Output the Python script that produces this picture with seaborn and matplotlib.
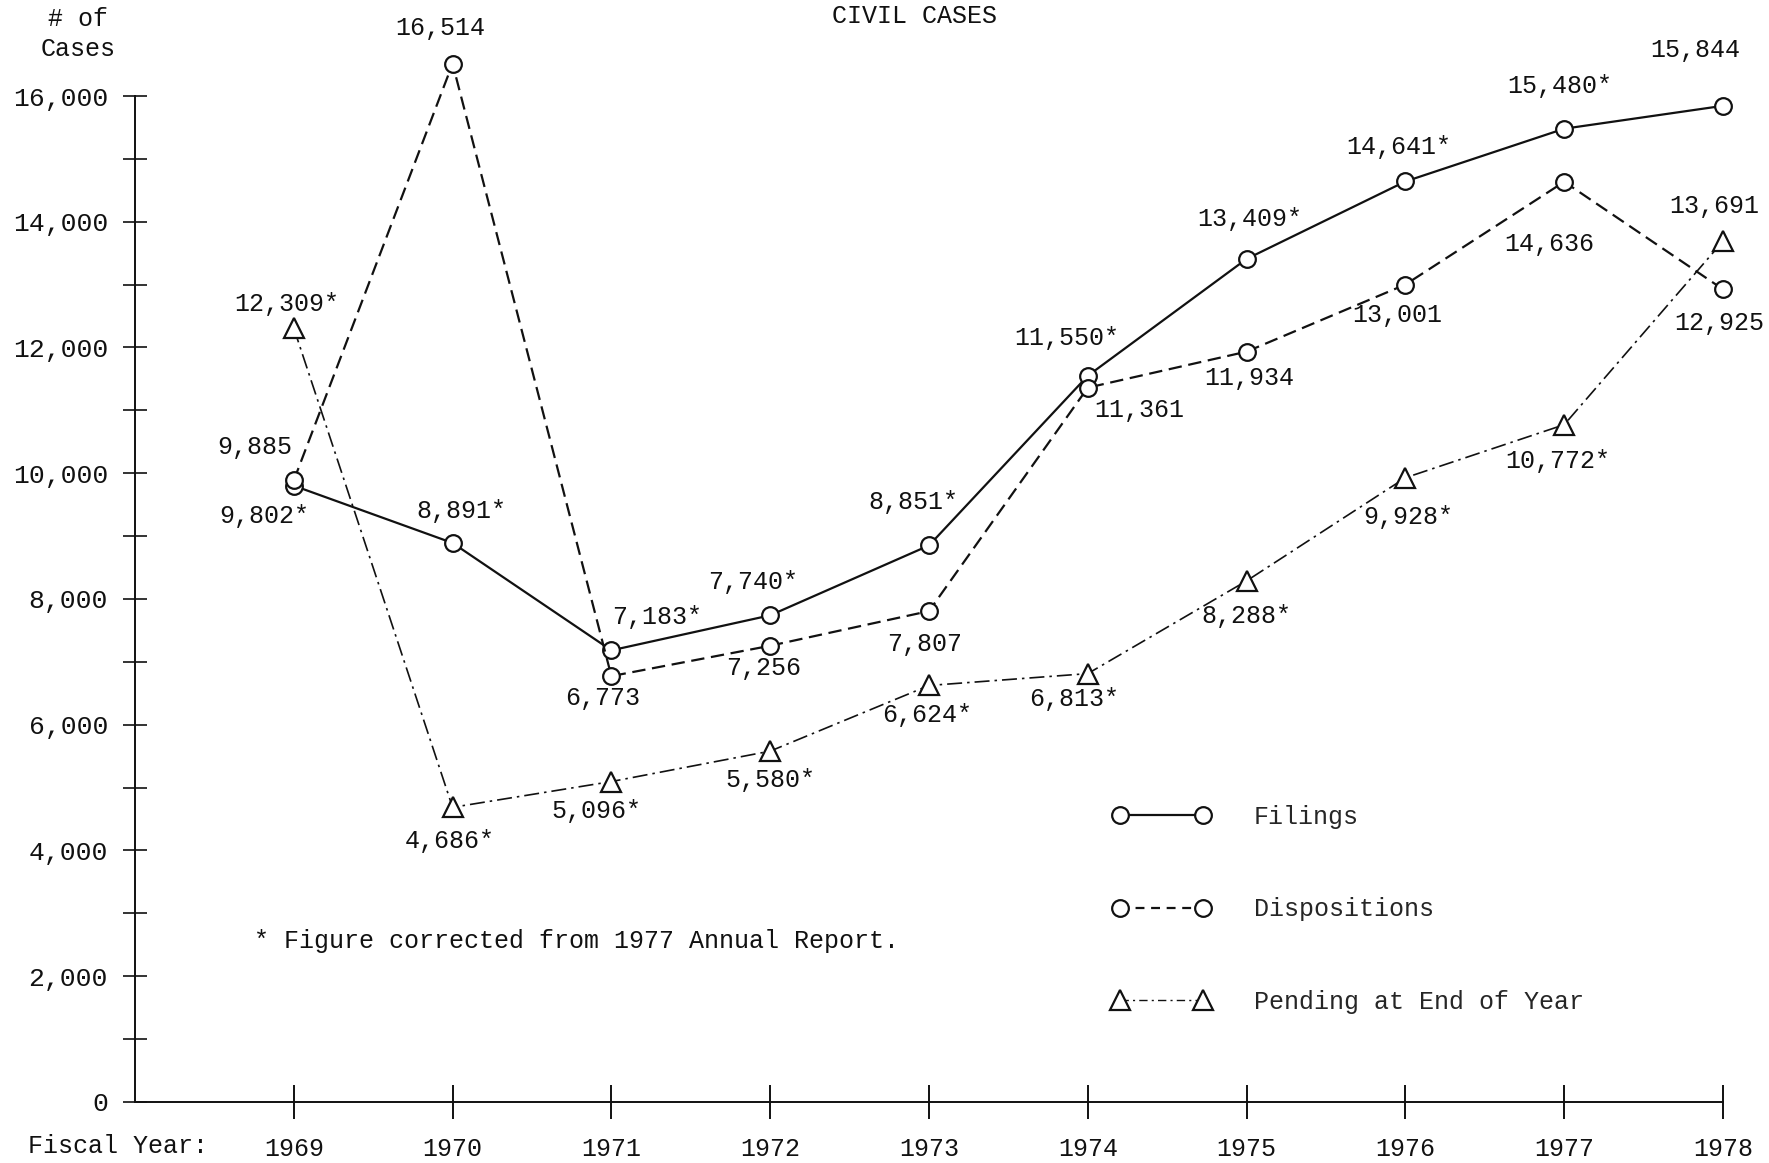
import pandas as pd
import matplotlib.pyplot as plt
import seaborn as sns
from matplotlib.lines import Line2D

# Values as printed on the chart
years = [1969, 1970, 1971, 1972, 1973, 1974, 1975, 1976, 1977, 1978]
filings = [9802, 8891, 7183, 7740, 8851, 11550, 13409, 14641, 15480, 15844]
dispositions = [9885, 16514, 6773, 7256, 7807, 11361, 11934, 13001, 14636, 12925]
pending = [12309, 4686, 5096, 5580, 6624, 6813, 8288, 9928, 10772, 13691]

# which labels carry the asterisk (corrected from 1977 report)
filings_star = [1, 1, 1, 1, 1, 1, 1, 1, 1, 0]
dispositions_star = [0] * 10
pending_star = [1, 1, 1, 1, 1, 1, 1, 1, 1, 0]

series_names = ["Filings", "Dispositions", "Pending at End of Year"]
y_ticks = [0, 2000, 4000, 6000, 8000, 10000, 12000, 14000, 16000]

# label offsets in points (dx, dy)
filings_off = [(-21, -22), (6, 23), (33, 24), (-12, 24), (-11, 31),
               (-15, 27), (2, 29), (-5, 25), (-3, 31), (-20, 40)]
disp_off = [(-28, 24), (-9, 26), (-6, -16), (-5, -16), (-3, -24),
            (37, -16), (2, -19), (-6, -22), (-11, -45), (-3, -24)]
pend_off = [(-5, 17), (-2, -24), (-11, -21), (0, -21), (-1, -21),
            (-10, -18), (0, -25), (2, -28), (-5, -26), (-6, 25)]

df = pd.DataFrame({
    "year": years * 3,
    "cases": filings + dispositions + pending,
    "series": [series_names[0]] * 10 + [series_names[1]] * 10 + [series_names[2]] * 10,
})

sns.set_theme(style="white")
plt.rcParams['font.family'] = ['Liberation Mono', 'DejaVu Sans']

ink = "#111111"
fs = 18

fig = plt.figure(figsize=(17.69, 11.63), dpi=100)
ax = fig.add_axes([0.0763, 0.0525, 0.8977, 0.919])

markers = {series_names[0]: "o", series_names[1]: "o", series_names[2]: "^"}
dashes = {series_names[0]: "", series_names[1]: (6, 3), series_names[2]: (9, 3, 1.5, 3)}
sns.lineplot(data=df, x="year", y="cases", style="series", markers=markers, dashes=dashes,
             color=ink, linewidth=1.6, markersize=12, markerfacecolor="white",
             markeredgecolor=ink, markeredgewidth=1.6, legend=False, ax=ax)

for line in ax.get_lines():
    line.set_clip_on(False)
    if line.get_marker() == "^":
        line.set_markersize(15)
        line.set_linewidth(1.2)

def label_series(vals, stars, offs):
    for x, v, s, (dx, dy) in zip(years, vals, stars, offs):
        txt = f"{v:,}" + ("*" if s else "")
        ax.annotate(txt, (x, v), xytext=(dx, dy), textcoords="offset points",
                    ha="center", va="center", fontsize=fs, color=ink, clip_on=False)

label_series(filings, filings_star, filings_off)
label_series(dispositions, dispositions_star, disp_off)
label_series(pending, pending_star, pend_off)

# axes
ax.set_xlim(1968, 1978)
ax.set_ylim(0, 17000)
for side in ["top", "right"]:
    ax.spines[side].set_visible(False)
ax.spines["left"].set_bounds(0, 16000)
ax.spines["left"].set_color(ink)
ax.spines["bottom"].set_color(ink)
ax.spines["left"].set_linewidth(1.4)
ax.spines["bottom"].set_linewidth(1.4)

ax.set_yticks(y_ticks)
ax.set_yticklabels([f"{t:,}" for t in y_ticks])
ax.set_yticks(range(1000, 17000, 2000), minor=True)
ax.set_xticks(years)
ax.set_xticklabels([str(y) for y in years])
ax.tick_params(axis="y", which="both", direction="inout", length=17, width=1.2,
               colors=ink, labelsize=19, pad=11, left=True)
ax.tick_params(axis="x", direction="inout", length=24, width=1.4,
               colors=ink, labelsize=fs, pad=13, bottom=True)
ax.set_xlabel("")
ax.set_ylabel("")
ax.grid(False)

# legend
handles = [
    Line2D([], [], color=ink, linestyle="-", linewidth=1.6, marker="o", markersize=12,
           markerfacecolor="white", markeredgecolor=ink, markeredgewidth=1.6),
    Line2D([], [], color=ink, linestyle=(0, (4, 3)), linewidth=1.6, marker="o", markersize=12,
           markerfacecolor="white", markeredgecolor=ink, markeredgewidth=1.6),
    Line2D([], [], color=ink, linestyle=(0, (6, 3, 1.5, 3)), linewidth=1.0, marker="^", markersize=15,
           markerfacecolor="white", markeredgecolor=ink, markeredgewidth=1.6),
]
fig.legend(handles, series_names, loc="upper left", bbox_to_anchor=(0.622, 0.319),
           frameon=False, numpoints=2, handlelength=3.9, handletextpad=1.75,
           labelspacing=2.75, fontsize=fs, borderpad=0)

ax.text(0.075, 0.151, "* Figure corrected from 1977 Annual Report.",
        transform=ax.transAxes, fontsize=fs, color=ink, va="center", ha="left")

fig.text(0.044, 0.971, "# of\nCases", fontsize=fs, color=ink, ha="center", va="center",
         linespacing=1.3)
fig.text(0.517, 0.986, "CIVIL CASES", fontsize=18, color=ink, ha="center", va="center")
fig.text(0.016, 0.0146, "Fiscal Year:", fontsize=fs, color=ink, ha="left", va="center")

fig.savefig("out.png", dpi=100, facecolor="white")
